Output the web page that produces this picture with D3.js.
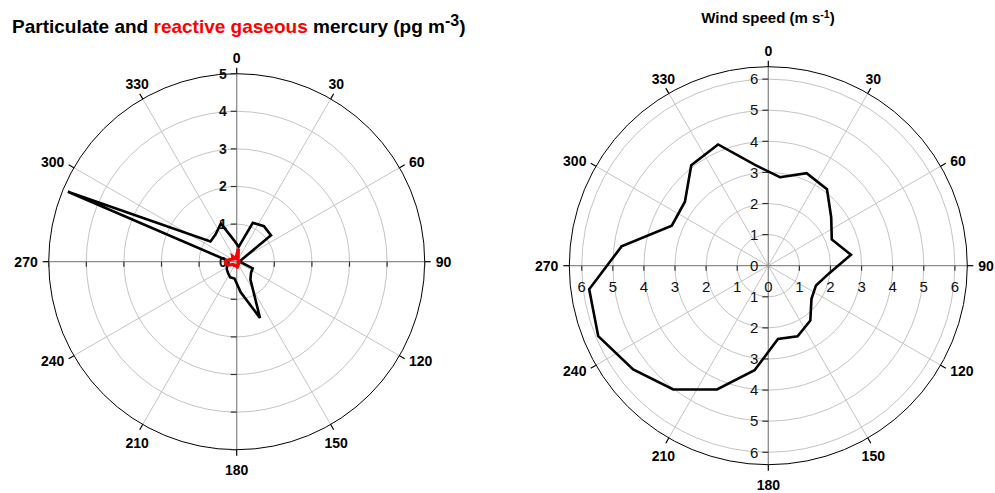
<!DOCTYPE html>
<html>
<head>
<meta charset="utf-8">
<script src="https://cdn.jsdelivr.net/npm/d3@7"></script>
<style>
body { margin: 0; background: #fff; }
text { font-family: Arial, "Liberation Sans", sans-serif; }
</style>
</head>
<body>
<script>
// wind direction sectors (degrees), 15 deg bins centred on 7.5, 22.5 ...
const dirBins = [7.5, 22.5, 37.5, 52.5, 67.5, 82.5, 97.5, 112.5, 127.5, 142.5, 157.5, 172.5,
                 187.5, 202.5, 217.5, 232.5, 247.5, 262.5, 277.5, 292.5, 307.5, 322.5, 337.5, 352.5];

// particulate mercury (pg m-3)
const particulateHg = [0.40, 1.12, 1.19, 1.15, 0.14, 0.08, 0.12, 0.46, 0.48, 0.60, 1.62, 0.82,
                       0.45, 0.45, 0.38, 0.33, 0.28, 0.22, 0.25, 4.86, 0.88, 0.92, 1.10, 0.58];

// reactive gaseous mercury (pg m-3)
const reactiveHg = [0.35, 0.10, 0.06, 0.05, 0.05, 0.06, 0.05, 0.07, 0.06, 0.08, 0.10, 0.14,
                    0.12, 0.10, 0.12, 0.12, 0.24, 0.30, 0.28, 0.16, 0.12, 0.18, 0.10, 0.12];

// mean wind speed (m s-1)
const windSpeed = [2.87, 3.22, 3.10, 2.55, 2.21, 2.68, 1.96, 1.66, 1.75, 2.22, 2.46, 2.38,
                   3.39, 4.31, 5.02, 5.48, 5.92, 5.81, 4.76, 3.36, 3.38, 4.07, 4.22, 3.27];

const compassTicks = [0, 30, 60, 90, 120, 150, 180, 210, 240, 270, 300, 330];
const hgTicks = [1, 2, 3, 4, 5];
const windTicks = [1, 2, 3, 4, 5, 6];

const width = 995, height = 493;

const svg = d3.select("body").append("svg")
    .attr("width", width)
    .attr("height", height);

const angle = d3.scaleLinear().domain([0, 360]).range([0, 2 * Math.PI]);

function px(a, r) { return r * Math.sin(angle(a)); }
function py(a, r) { return -r * Math.cos(angle(a)); }

// draws one polar panel, returns the radius scale
function drawPolar(cfg) {
    const r = d3.scaleLinear().domain([0, cfg.max]).range([0, cfg.radius]);
    const g = svg.append("g").attr("transform", "translate(" + cfg.cx + "," + cfg.cy + ")");

    // grid circles
    g.selectAll(".ring").data(cfg.ticks.filter(t => t < cfg.max))
        .enter().append("circle")
        .attr("r", d => r(d))
        .attr("fill", "none")
        .attr("stroke", "#c4c4c4")
        .attr("stroke-width", 1);

    // spokes every 30 deg
    g.selectAll(".spoke").data(compassTicks.filter(d => d % 90 != 0))
        .enter().append("line")
        .attr("x1", 0).attr("y1", 0)
        .attr("x2", d => px(d, cfg.radius))
        .attr("y2", d => py(d, cfg.radius))
        .attr("stroke", "#c4c4c4")
        .attr("stroke-width", 1);

    // main axes
    g.selectAll(".axis").data([0, 90])
        .enter().append("line")
        .attr("x1", d => px(d, cfg.radius)).attr("y1", d => py(d, cfg.radius))
        .attr("x2", d => px(d + 180, cfg.radius)).attr("y2", d => py(d + 180, cfg.radius))
        .attr("stroke", "#8c8c8c")
        .attr("stroke-width", 1.3);

    // outer circle
    g.append("circle")
        .attr("r", cfg.radius)
        .attr("fill", "none")
        .attr("stroke", "#000")
        .attr("stroke-width", 1);

    // compass ticks
    g.selectAll(".ctick").data(compassTicks)
        .enter().append("line")
        .attr("x1", d => px(d, cfg.radius)).attr("y1", d => py(d, cfg.radius))
        .attr("x2", d => px(d, cfg.radius + 6)).attr("y2", d => py(d, cfg.radius + 6))
        .attr("stroke", "#000")
        .attr("stroke-width", 1.2);

    // compass labels: anchored to a point just outside the ring
    const lr = cfg.radius + 11;
    g.selectAll(".clabel").data(compassTicks)
        .enter().append("text")
        .attr("x", d => px(d, lr))
        .attr("y", d => {
            let y = py(d, lr);
            if (d <= 30 || d >= 330) y -= 5;
            else if (d >= 150 && d <= 210) y += 9;
            return y;
        })
        .attr("dy", "0.35em")
        .attr("text-anchor", d => {
            if (d >= 60 && d <= 120) return "start";
            if (d >= 240 && d <= 300) return "end";
            return "middle";
        })
        .attr("font-size", 14)
        .attr("font-weight", "bold")
        .attr("fill", "#000")
        .text(d => d);

    // radial ticks on the vertical axis (up and down)
    const vt = [];
    cfg.ticks.forEach(t => { vt.push(-t); vt.push(t); });
    g.selectAll(".vtick").data(vt)
        .enter().append("line")
        .attr("x1", -6).attr("x2", 0)
        .attr("y1", d => -Math.sign(d) * r(Math.abs(d)))
        .attr("y2", d => -Math.sign(d) * r(Math.abs(d)))
        .attr("stroke", "#333")
        .attr("stroke-width", 1.2);

    // radial ticks on the horizontal axis (left and right)
    g.selectAll(".htick").data(vt)
        .enter().append("line")
        .attr("y1", 0).attr("y2", 5)
        .attr("x1", d => Math.sign(d) * r(Math.abs(d)))
        .attr("x2", d => Math.sign(d) * r(Math.abs(d)))
        .attr("stroke", "#333")
        .attr("stroke-width", 1.2);

    // radial labels on the vertical axis
    const upLabels = [0].concat(cfg.ticks);
    const vLabels = cfg.lowerLabels ? upLabels.concat(cfg.ticks.map(t => -t)) : upLabels;
    g.selectAll(".vlabel").data(vLabels)
        .enter().append("text")
        .attr("x", -10)
        .attr("y", d => -Math.sign(d) * r(Math.abs(d)))
        .attr("dy", "0.35em")
        .attr("text-anchor", "end")
        .attr("font-size", cfg.labelSize)
        .attr("font-weight", cfg.labelWeight)
        .attr("fill", "#111")
        .text(d => Math.abs(d));

    // radial labels on the horizontal axis
    if (cfg.lowerLabels) {
        g.selectAll(".hlabel").data(upLabels.concat(cfg.ticks.map(t => -t)))
            .enter().append("text")
            .attr("x", d => Math.sign(d) * r(Math.abs(d)))
            .attr("y", 26)
            .attr("text-anchor", "middle")
            .attr("font-size", cfg.labelSize)
            .attr("font-weight", cfg.labelWeight)
            .attr("fill", "#111")
            .text(d => Math.abs(d));
    }

    // data lines
    cfg.series.forEach(s => {
        const line = d3.lineRadial()
            .angle((d, i) => angle(dirBins[i]))
            .radius(d => r(d))
            .curve(d3.curveLinearClosed);
        g.append("path")
            .datum(s.values)
            .attr("d", line)
            .attr("fill", "none")
            .attr("stroke", s.color)
            .attr("stroke-width", s.width)
            .attr("stroke-linejoin", "miter");
    });

    return r;
}

drawPolar({
    cx: 236.7, cy: 261.7, radius: 188, max: 5,
    ticks: hgTicks, lowerLabels: false,
    labelSize: 14, labelWeight: "bold",
    series: [
        { values: particulateHg, color: "#000", width: 2.6 },
        { values: reactiveHg, color: "#ff0000", width: 3.2 }
    ]
});

drawPolar({
    cx: 768.3, cy: 265.7, radius: 199, max: 6.4,
    ticks: windTicks, lowerLabels: true,
    labelSize: 15, labelWeight: "normal",
    series: [
        { values: windSpeed, color: "#000", width: 2.6 }
    ]
});

// titles
const t1 = svg.append("text")
    .attr("x", 12).attr("y", 33)
    .attr("font-size", 19)
    .attr("font-weight", "bold");
t1.append("tspan").text("Particulate and ");
t1.append("tspan").attr("fill", "#ff0000").text("reactive gaseous");
t1.append("tspan").text(" mercury (pg m");
t1.append("tspan").attr("font-size", 16).attr("dy", -7).text("-3");
t1.append("tspan").attr("dy", 7).text(")");

const t2 = svg.append("text")
    .attr("x", 768).attr("y", 23)
    .attr("text-anchor", "middle")
    .attr("font-size", 15)
    .attr("font-weight", "bold");
t2.append("tspan").text("Wind speed (m s");
t2.append("tspan").attr("font-size", 10.5).attr("dy", -5).text("-1");
t2.append("tspan").attr("dy", 5).text(")");
</script>
</body>
</html>
